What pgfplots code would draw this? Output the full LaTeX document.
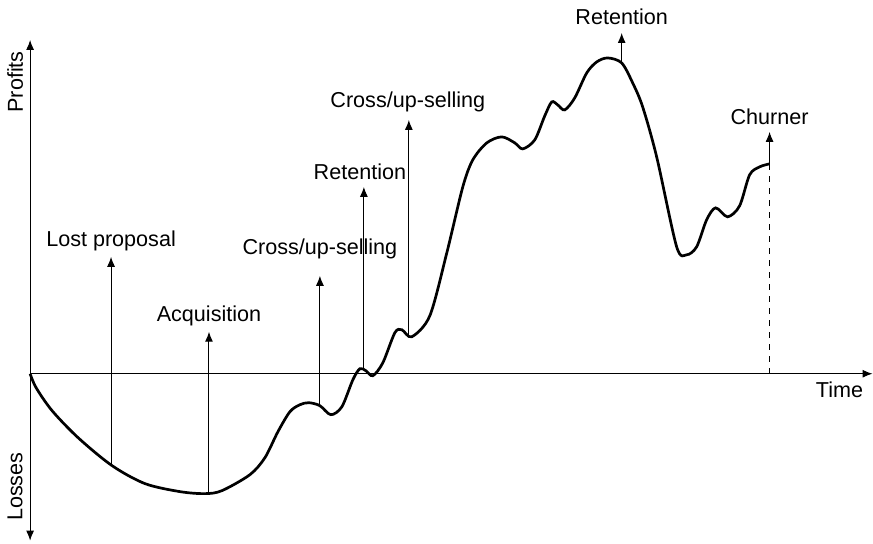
\documentclass[border=0pt]{standalone}
\usepackage{fontspec}
\setmainfont{Liberation Sans}
\usepackage{pgfplots}
\pgfplotsset{compat=1.18}
\usetikzlibrary{arrows.meta}
\begin{document}
\fontsize{10.8}{13}\selectfont
\begin{tikzpicture}[>={Latex[length=5pt,width=4pt]}]
    \begin{axis}[
            x=0.5pt, y=0.5pt,
            xmin=0, xmax=843,
            ymin=-167, ymax=334,
            axis lines=middle,
            xtick=\empty, ytick=\empty,
            x axis line style={->, line width=0.5pt},
            y axis line style={<->, line width=0.5pt},
            clip=false,
        ]
        % page frame (873 x 544 px)
        \path (axis cs:-30,-170) rectangle (axis cs:843,374);

        % customer value curve
        \addplot [smooth, tension=0.5, line width=1.35pt] coordinates {
                (0,0) (6,-14) (22,-37) (48,-64) (82,-92) (115,-110)
                (150,-118) (175,-120) (192,-117) (220,-101)
                (235,-84) (248,-58) (260,-38) (270,-31) (279,-29)
                (290,-32) (301,-41) (312,-33) (323,-6) (330,5) (336,3)
                (343,-2) (353,11) (365,41) (372,44) (382,37) (400,58)
                (417,121) (433,187) (443,214) (457,231) (472,237)
                (485,231) (493,225) (505,234) (515,258) (522,272)
                (528,269) (535,264) (545,276) (557,301) (567,312)
                (578,316) (592,311) (603,291) (613,267) (627,217)
                (647,127) (657,119) (667,127) (677,154) (686,166)
                (698,157) (710,168) (720,199) (730,207) (740,210)
            };

        % events
        \addplot [->, line width=0.5pt] coordinates {(81,-92) (81,117)};
        \addplot [->, line width=0.5pt] coordinates {(179,-119) (179,42)};
        \addplot [->, line width=0.5pt] coordinates {(290,-32) (290,98)};
        \addplot [->, line width=0.5pt] coordinates {(334,4) (334,187)};
        \addplot [->, line width=0.5pt] coordinates {(379,39) (379,254)};
        \addplot [->, line width=0.5pt] coordinates {(592,311) (592,341)};
        \addplot [->, line width=0.5pt] coordinates {(740,210) (740,242)};
        \addplot [dashed, line width=0.5pt] coordinates {(740,0) (740,210)};

        \node at (axis cs:81,133) {Lost proposal};
        \node at (axis cs:179,58) {Acquisition};
        \node at (axis cs:290,125) {Cross/up-selling};
        \node at (axis cs:330,202) {Retention};
        \node at (axis cs:378,272) {Cross/up-selling};
        \node at (axis cs:592,357) {Retention};
        \node at (axis cs:740,257) {Churner};
        \node at (axis cs:810,-16) {Time};
        \node[rotate=90] at (axis cs:-15,292) {Profits};
        \node[rotate=90] at (axis cs:-15,-113) {Losses};
    \end{axis}
\end{tikzpicture}
\end{document}
